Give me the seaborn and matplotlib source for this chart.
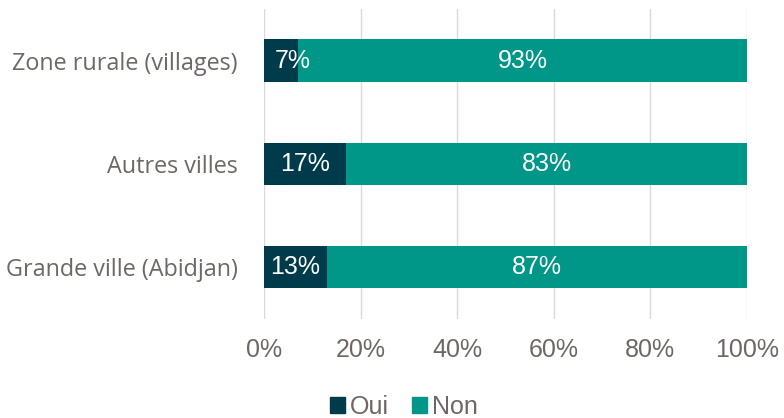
import matplotlib
matplotlib.use("Agg")
import matplotlib.pyplot as plt
import seaborn as sns
import pandas as pd
from matplotlib.patches import Patch

# Data
categories = ["Zone rurale (villages)", "Autres villes", "Grande ville (Abidjan)"]
oui = [7, 17, 13]
non = [93, 83, 87]
tick_labels = ["0%", "20%", "40%", "60%", "80%", "100%"]

dark = "#003B4C"
teal = "#009688"
grey = "#6E6766"

df = pd.DataFrame({"zone": categories, "Oui": oui, "Non": non})
df["total"] = df["Oui"] + df["Non"]

sns.set_style("white")
plt.rcParams['font.family'] = ['Liberation Sans', 'DejaVu Sans']

fig = plt.figure(figsize=(7.84, 4.18), dpi=100)
ax = fig.add_axes([0.3367, 0.237, 0.6161, 0.7417])

# stacked bars: total first (teal), then Oui on top (dark)
sns.barplot(data=df, y="zone", x="total", color=teal, width=0.41, ax=ax,
            saturation=1, orient="h", linewidth=0)
sns.barplot(data=df, y="zone", x="Oui", color=dark, width=0.41, ax=ax,
            saturation=1, orient="h", linewidth=0)

for i, (o, n) in enumerate(zip(oui, non)):
    ax.text(max(o / 2, 6), i, f"{o}%", color="white", ha="center", va="center", fontsize=18)
    ax.text(o + n / 2, i, f"{n}%", color="white", ha="center", va="center", fontsize=18)

ax.set_xlim(0, 100)
ax.set_ylim(2.5, -0.5)
ax.set_xticks([0, 20, 40, 60, 80, 100])
ax.set_xticklabels(tick_labels, fontsize=18, color=grey)
ax.set_yticks(range(len(categories)))
ax.set_yticklabels(categories, fontsize=16.8, color=grey, family="Open Sans")
ax.tick_params(axis="both", length=0)
ax.tick_params(axis="x", pad=14)
ax.tick_params(axis="y", pad=19)
ax.set_xlabel("")
ax.set_ylabel("")
ax.grid(axis="x", color="#D9D9D9", linewidth=1)
ax.set_axisbelow(True)
for s in ax.spines.values():
    s.set_visible(False)

handles = [Patch(color=dark, label="Oui"), Patch(color=teal, label="Non")]
fig.legend(handles=handles, loc="center", bbox_to_anchor=(0.515, 0.027), ncol=2,
           frameon=False, fontsize=18, handlelength=0.6, handleheight=0.6,
           handletextpad=0.2, columnspacing=0.9, labelcolor=grey)

fig.savefig("out.png", dpi=100)
